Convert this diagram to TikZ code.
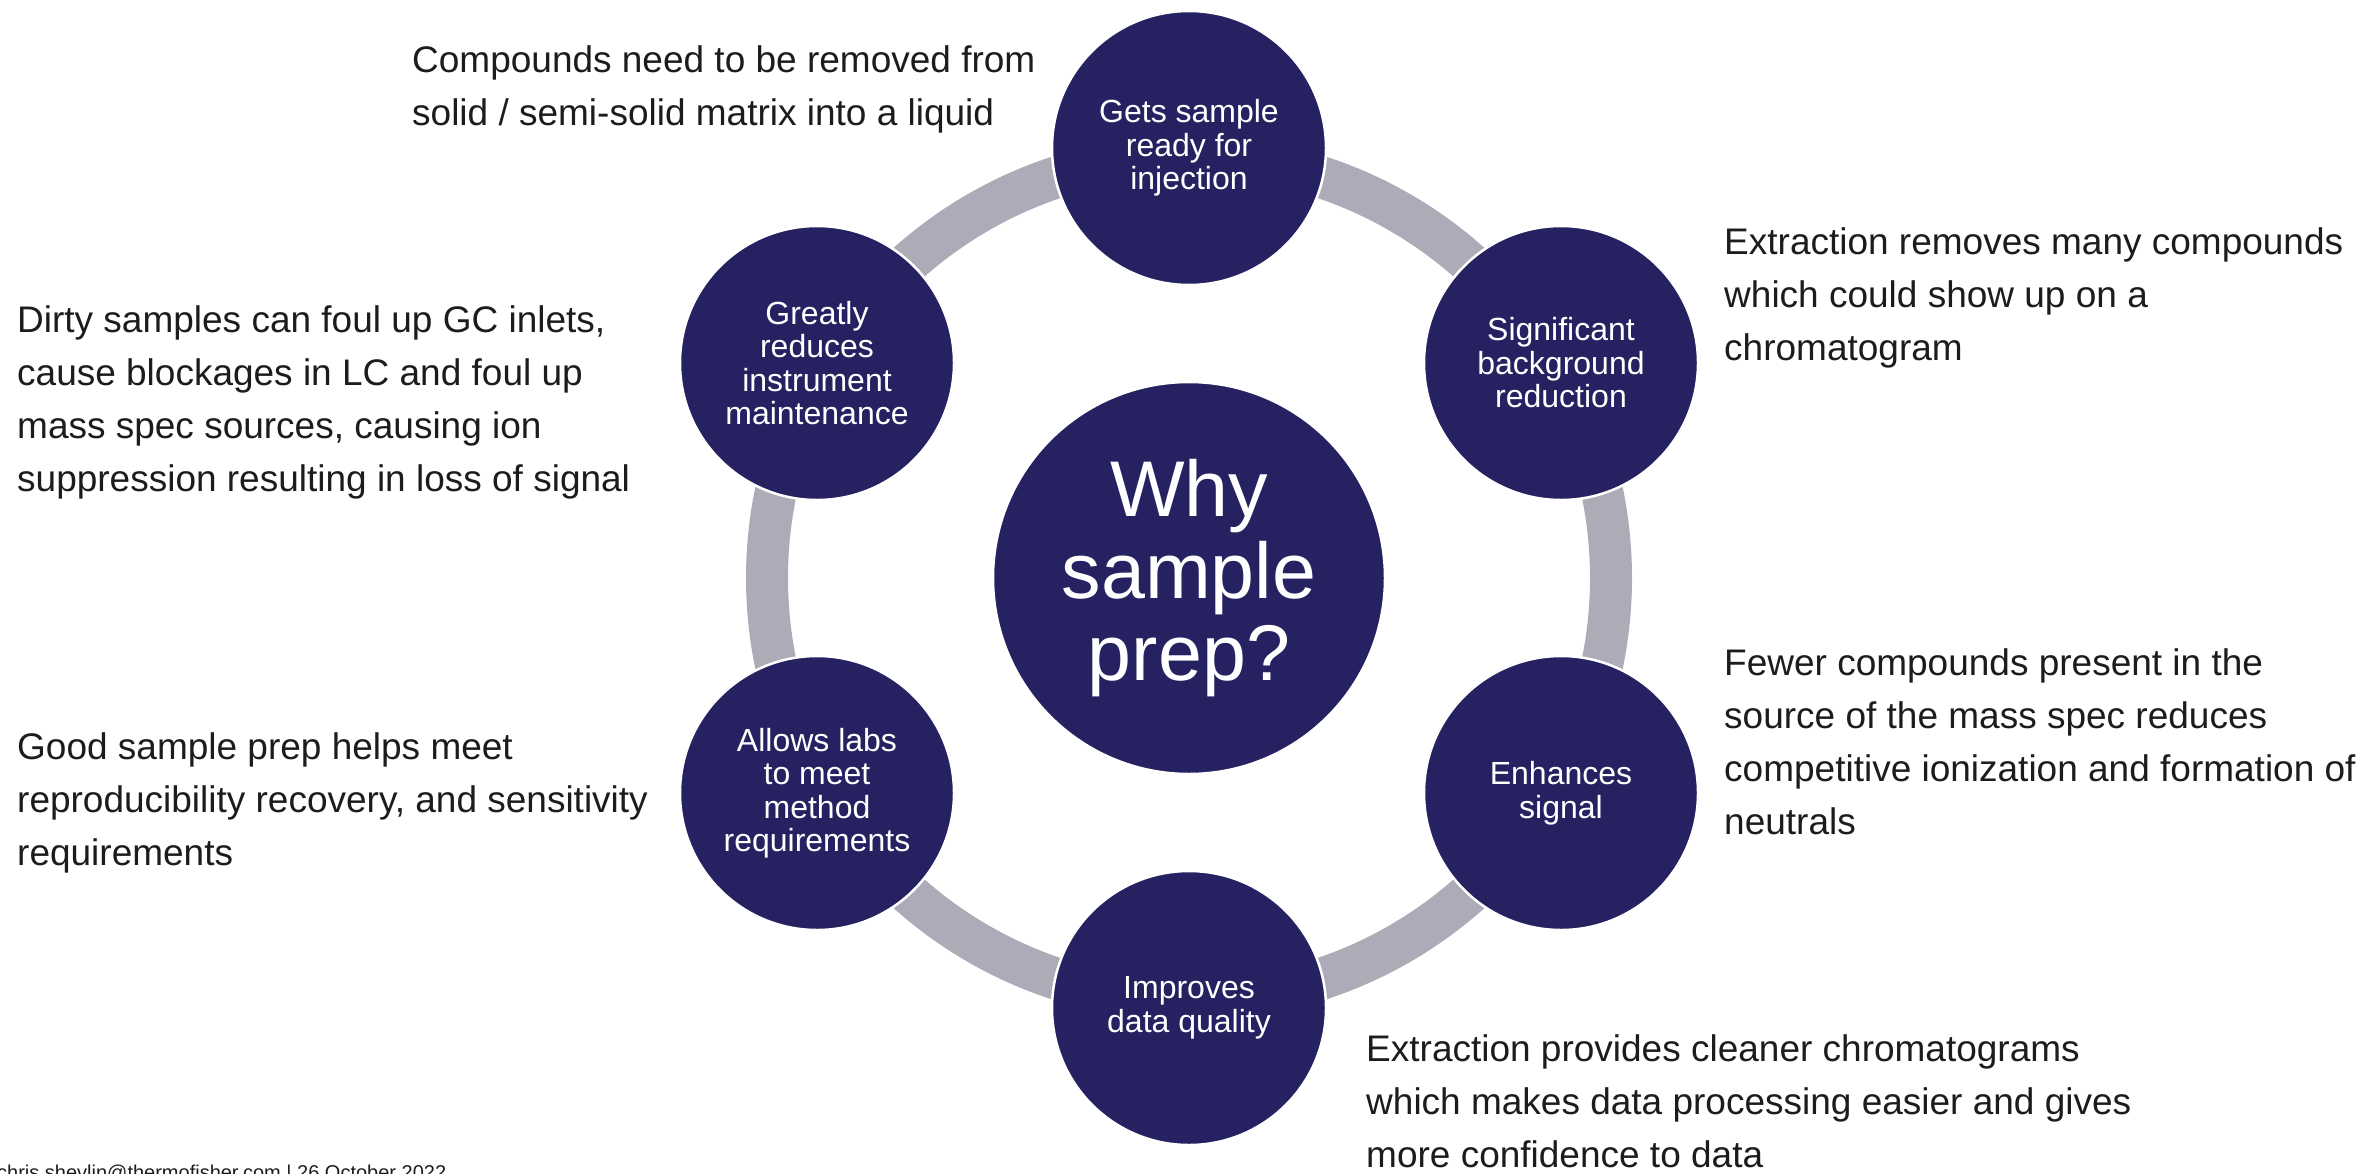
\documentclass[tikz,border=0pt]{standalone}
\usepackage{fontspec}
\setmainfont{Liberation Sans}
\definecolor{navy}{HTML}{262262}
\definecolor{ringgray}{HTML}{ACABB7}
\definecolor{ink}{HTML}{1C1C1C}
\tikzset{
  bubble/.style={circle, fill=navy, draw=white, line width=2.5pt, minimum size=274pt,
    inner sep=0pt, text=white, align=center, font=\fontsize{32}{33.5}\selectfont},
  hub/.style={circle, fill=navy, draw=white, line width=2.5pt, minimum size=392pt,
    inner sep=0pt, text=white, align=center, font=\fontsize{79}{82}\selectfont},
  % anchored at the baseline of the last line
  note/.style={anchor=base west, inner sep=0pt, align=left, text=ink,
    font=\fontsize{37}{53}\selectfont},
}
\begin{document}
\begin{tikzpicture}[x=1pt,y=-1pt]
\useasboundingbox (0,0) rectangle (2367,1173);
\coordinate (c) at (1189,578);
% grey cycle ring behind the bubbles
\draw[ringgray, line width=42pt] (c) circle (422pt);
% centre and surrounding bubbles
\node[hub] (why) at (c) {Why\\sample\\prep?};
\node[bubble] (inj) at (1189,148) {Gets sample\\ready for\\injection};
\node[bubble] (bg)  at (1561,363) {Significant\\background\\reduction};
\node[bubble] (sig) at (1561,793) {Enhances\\signal};
\node[bubble] (dq)  at (1189,1008) {Improves\\data quality};
\node[bubble] (lab) at (817,793) {Allows labs\\to meet\\method\\requirements};
\node[bubble] (mnt) at (817,363) {Greatly\\reduces\\instrument\\maintenance};
% explanatory notes
\node[note] (n1) at (412,125) {Compounds need to be removed from\\solid / semi-solid matrix into a liquid};
\node[note] (n2) at (17,491) {Dirty samples can foul up GC inlets,\\cause blockages in LC and foul up\\mass spec sources, causing ion\\suppression resulting in loss of signal};
\node[note] (n3) at (17,865) {Good sample prep helps meet\\reproducibility recovery, and sensitivity\\requirements};
\node[note] (n4) at (1724,360) {Extraction removes many compounds\\which could show up on a\\chromatogram};
\node[note] (n5) at (1724,834) {Fewer compounds present in the\\source of the mass spec reduces\\competitive ionization and formation of\\neutrals};
\node[note] (n6) at (1366,1167) {Extraction provides cleaner chromatograms\\which makes data processing easier and gives\\more confidence to data};
% footer
\node[anchor=base west, inner sep=0pt, text=ink, font=\fontsize{20}{24}\selectfont] (foot) at (-3,1179)
  {chris.shevlin@thermofisher.com | 26 October 2022};
\end{tikzpicture}
\end{document}
